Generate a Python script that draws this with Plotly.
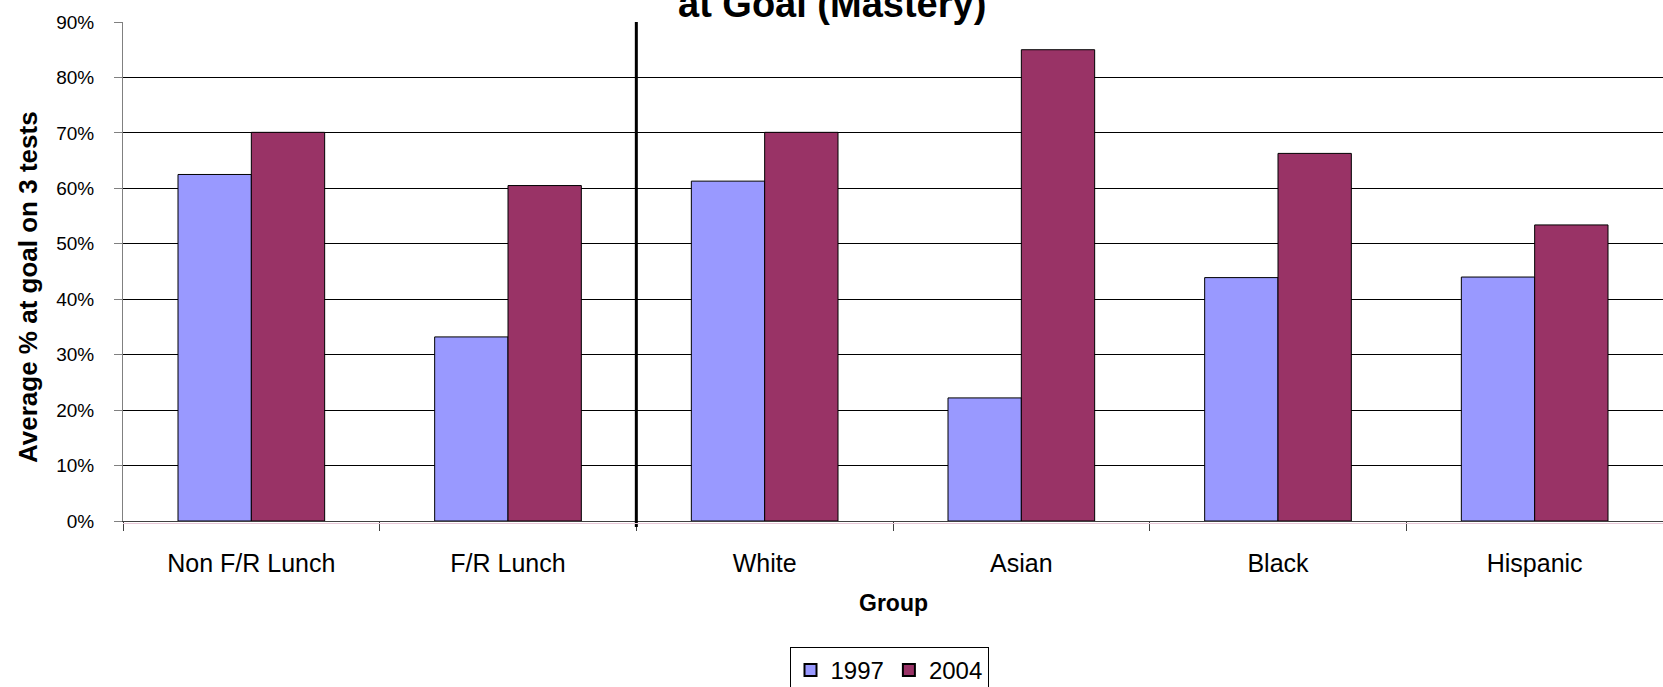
import plotly.graph_objects as go

# Average percent of students at goal on 3 tests, by group
groups = ["Non F/R Lunch", "F/R Lunch", "White", "Asian", "Black", "Hispanic"]
pct_1997 = [62.5, 33.2, 61.3, 22.2, 43.9, 44.0]
pct_2004 = [70.1, 60.5, 70.1, 85.0, 66.3, 53.4]
y_ticks = [0, 10, 20, 30, 40, 50, 60, 70, 80, 90]
y_tick_labels = ["0%", "10%", "20%", "30%", "40%", "50%", "60%", "70%", "80%", "90%"]

FONT = "Liberation Sans, Arial, sans-serif"
W, H = 1663, 687
M_L, M_R, M_T, M_B = 123, 0, 22, 166
plot_w = W - M_L - M_R
plot_h = H - M_T - M_B

fig = go.Figure()
fig.add_trace(go.Bar(
    name="1997", x=groups, y=pct_1997,
    marker=dict(color="#9999FF", line=dict(color="#000000", width=1)),
))
fig.add_trace(go.Bar(
    name="2004", x=groups, y=pct_2004,
    marker=dict(color="#993366", line=dict(color="#000000", width=1)),
))

# divider between the lunch-status groups and the ethnic groups
fig.add_shape(type="line", xref="x", yref="paper",
              x0=1.5, x1=1.5, y0=-0.012, y1=1,
              line=dict(color="#000000", width=3))

# faint line just under the baseline
fig.add_shape(type="line", xref="paper", yref="paper",
              x0=0, x1=1, y0=-2.5 / plot_h, y1=-2.5 / plot_h,
              line=dict(color="#E8C8D8", width=1))

# title (second line)
fig.add_annotation(text="<b>at Goal (Mastery)</b>", xref="paper", yref="paper",
                   x=(832 - M_L) / plot_w, y=1 - 5 / plot_h,
                   xanchor="center", yanchor="bottom", showarrow=False,
                   font=dict(family=FONT, size=38, color="#000000"))

# y-axis title
fig.add_annotation(text="<b>Average % at goal on 3 tests</b>", xref="paper", yref="paper",
                   x=(28 - M_L) / plot_w, y=(521 - 287) / plot_h,
                   xanchor="center", yanchor="middle", textangle=-90, showarrow=False,
                   font=dict(family=FONT, size=26, color="#000000"))

# x-axis title
fig.add_annotation(text="<b>Group</b>", xref="paper", yref="paper",
                   x=(893 - M_L) / plot_w, y=(521 - 603) / plot_h,
                   xanchor="center", yanchor="middle", showarrow=False,
                   font=dict(family=FONT, size=23, color="#000000"))

fig.update_layout(
    width=W, height=H,
    margin=dict(l=M_L, r=M_R, t=M_T, b=M_B, pad=0, autoexpand=False),
    paper_bgcolor="#FFFFFF", plot_bgcolor="#FFFFFF",
    barmode="group", bargap=1.5 / 3.5, bargroupgap=0,
    font=dict(family=FONT, color="#000000"),
    showlegend=True,
    legend=dict(orientation="h", x=(889 - M_L) / plot_w, xanchor="center",
                y=(521 - 647) / plot_h, yanchor="top",
                bordercolor="#000000", borderwidth=1, bgcolor="#FFFFFF",
                font=dict(family=FONT, size=24, color="#000000"),
                itemsizing="constant", traceorder="normal"),
)

fig.update_xaxes(
    type="category", showgrid=False, zeroline=False,
    showline=True, linecolor="#404040", linewidth=1,
    ticks="outside", tickson="boundaries", ticklen=9, tickcolor="#404040",
    tickfont=dict(family=FONT, size=25, color="#000000"),
    ticklabelstandoff=20,
)
fig.update_yaxes(
    range=[0, 90], tickmode="array", tickvals=y_ticks, ticktext=y_tick_labels,
    showgrid=True, gridcolor="#000000", gridwidth=1, zeroline=False,
    showline=True, linecolor="#808080", linewidth=1,
    ticks="outside", ticklen=8, tickcolor="#808080",
    tickfont=dict(family=FONT, size=19, color="#000000"),
    ticklabelstandoff=16,
)

fig.write_html("out.html")
